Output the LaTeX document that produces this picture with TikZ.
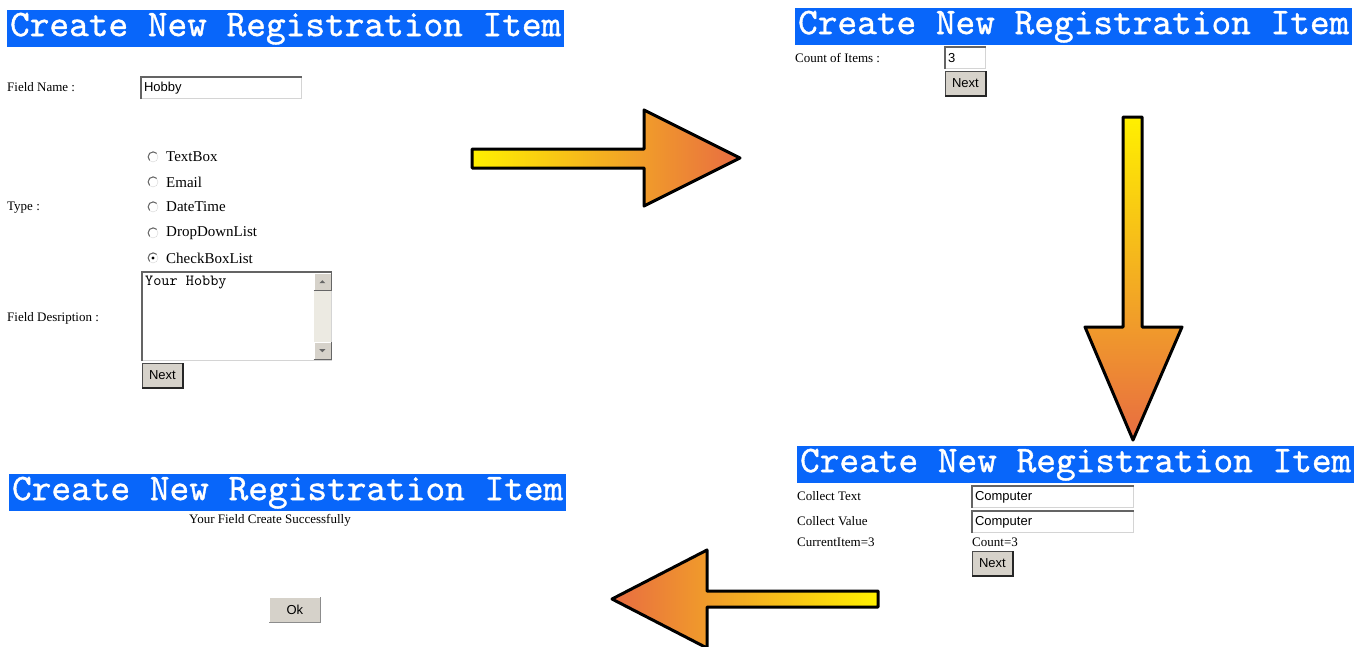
\documentclass[tikz,border=0pt]{standalone}
\usepackage{fontspec}
\setmainfont{Liberation Serif}
\newfontfamily\arialfont{Liberation Sans}
\newfontfamily\courfont{lmmono10-regular.otf}[FakeBold=1]
\newfontfamily\courtext{lmmono10-regular.otf}

\definecolor{bannerblue}{RGB}{8,102,250}
\definecolor{btnface}{RGB}{214,210,202}
\definecolor{insetdark}{RGB}{100,100,100}
\definecolor{insetlight}{RGB}{212,212,212}
\definecolor{trackgray}{RGB}{236,234,226}
\definecolor{arrowtail}{RGB}{255,240,0}
\definecolor{arrowmid}{RGB}{245,180,45}
\definecolor{arrowtip}{RGB}{232,108,66}

% sunken input edge (dark top and left)
\newcommand\sunkenedge[1]{\draw[insetdark, line width=1.2pt] (#1.south west) -- (#1.north west) -- (#1.north east);}
% raised button edge (dark bottom and right)
\newcommand\raisededge[1]{\draw[black!85, line width=1.6pt] (#1.south west) -- (#1.south east) -- (#1.north east);}

\begin{document}
\begin{tikzpicture}[x=1pt, y=-1pt,
  banner/.style={fill=bannerblue, text=white, anchor=north west,
    font=\courfont\fontsize{37.5}{37.5}\selectfont,
    minimum width=557, minimum height=37, inner sep=0},
  lbl/.style={anchor=west, inner sep=0, font=\fontsize{13}{15}\selectfont},
  opt/.style={anchor=west, inner sep=0, font=\fontsize{15}{17}\selectfont},
  field/.style={anchor=north west, draw=insetlight, fill=white, line width=1pt,
    inner xsep=2.5pt, inner ysep=0, minimum height=21, text width=#1, align=left,
    font=\arialfont\fontsize{13}{15}\selectfont},
  btn/.style={anchor=north west, fill=btnface, draw=black!70, line width=0.8pt,
    minimum width=40, minimum height=24, inner sep=0,
    font=\arialfont\fontsize{13}{15}\selectfont},
  radio/.style={circle, draw=insetlight, fill=white, minimum size=10, inner sep=0},
  blockarrow/.style={draw=black, line width=3pt, line join=round},
]
\useasboundingbox (0,0) rectangle (1372,646);

% ---------- step 1: field definition ----------
\node[banner] (ban1) at (7,10) {Create New Registration Item};
\node[lbl] (fnl) at (7,87) {Field Name :};
\node[field=155pt] (fn) at (141,77) {Hobby};
\sunkenedge{fn}

\node[lbl] (typel) at (7,208) {Type :};
\foreach \n/\y/\t in {1/157/TextBox, 2/182/Email, 3/207/DateTime, 4/233/DropDownList, 5/258/CheckBoxList}{
  \node[radio] (r\n) at (153,\y) {};
  \draw[insetdark, line width=1pt] (r\n.45) arc[start angle=45, end angle=225, radius=5pt];
  \node[opt] (rt\n) at (166,\y) {\t};
}
\fill (r5.center) circle[radius=1.7pt];

\node[lbl] (descl) at (7,318) {Field Desription :};
\node[anchor=north west, draw=insetlight, fill=white, line width=1pt,
  minimum width=189, minimum height=88, inner sep=0] (desc) at (142,272) {};
\sunkenedge{desc}
\node[anchor=north west, inner sep=0, font=\courtext\fontsize{15.5}{17}\selectfont]
  (desctext) at ([shift={(3,4)}]desc.north west) {Your Hobby};
% scroll bar
\node[anchor=north east, fill=trackgray, minimum width=17, minimum height=86, inner sep=0]
  (track) at ([shift={(-1,1)}]desc.north east) {};
\node[anchor=north west, fill=btnface, draw=white, minimum size=17, inner sep=0] (sup) at (track.north west) {};
\draw[black!60] (sup.south west) -- (sup.south east) -- (sup.north east);
\fill[black!60] (sup.center) ++(-3,1.5) -- ++(6,0) -- ++(-3,-3) -- cycle;
\node[anchor=south west, fill=btnface, draw=white, minimum size=17, inner sep=0] (sdown) at (track.south west) {};
\draw[black!60] (sdown.south west) -- (sdown.south east) -- (sdown.north east);
\fill[black!60] (sdown.center) ++(-3,-1.5) -- ++(6,0) -- ++(-3,3) -- cycle;

\node[btn] (next1) at (142,363) {Next};
\raisededge{next1}

% ---------- step 2: count of items ----------
\node[banner] (ban2) at (795,8) {Create New Registration Item};
\node[lbl] (cntl) at (795,58) {Count of Items :};
\node[field=35pt] (cnt) at (945,47) {3};
\sunkenedge{cnt}
\node[btn] (next2) at (945,71) {Next};
\raisededge{next2}

% ---------- step 3: collect items ----------
\node[banner] (ban3) at (797,446) {Create New Registration Item};
\node[lbl] (ctl) at (797,496) {Collect Text};
\node[field=156pt] (ct) at (972,486) {Computer};
\sunkenedge{ct}
\node[lbl] (cvl) at (797,521) {Collect Value};
\node[field=156pt] (cv) at (972,511) {Computer};
\sunkenedge{cv}
\node[lbl] (curl) at (797,542) {CurrentItem=3};
\node[lbl] (countl) at (972,542) {Count=3};
\node[btn] (next3) at (972,551) {Next};
\raisededge{next3}

% ---------- step 4: done ----------
\node[banner] (ban4) at (9,474) {Create New Registration Item};
\node[lbl, anchor=center] (done) at (270,520) {Your Field Create Successfully};
\node[btn, draw=white, minimum width=51, minimum height=25] (ok) at (269,597) {Ok};
\draw[black!45, line width=1.2pt] (ok.south west) -- (ok.south east) -- (ok.north east);

% ---------- flow arrows ----------
\draw[blockarrow, left color=arrowtail, middle color=arrowmid, right color=arrowtip]
  (472,149) -- (644,149) -- (644,110) -- (740,158) -- (644,206) -- (644,168) -- (472,168) -- cycle;
\draw[blockarrow, top color=arrowtail, middle color=arrowmid, bottom color=arrowtip]
  (1123,117) -- (1142,117) -- (1142,327) -- (1182,327) -- (1133,440) -- (1085,327) -- (1123,327) -- cycle;
\draw[blockarrow, right color=arrowtail, middle color=arrowmid, left color=arrowtip]
  (878,591) -- (707,591) -- (707,550) -- (612,599) -- (707,648) -- (707,607) -- (878,607) -- cycle;
\end{tikzpicture}
\end{document}
